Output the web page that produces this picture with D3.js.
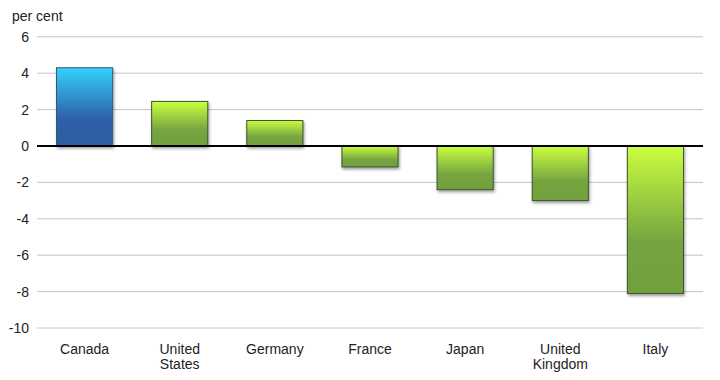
<!DOCTYPE html>
<html>
<head>
<meta charset="utf-8">
<script src="https://cdn.jsdelivr.net/npm/d3@7"></script>
<style>
  body { margin: 0; background: #fff; }
  text { font-family: "Liberation Sans", Helvetica, Arial, sans-serif; }
</style>
</head>
<body>
<div class="canvas"></div>
<script>
// data
const countries = ['Canada', 'United States', 'Germany', 'France', 'Japan', 'United Kingdom', 'Italy'];
const values = [4.3, 2.45, 1.4, -1.15, -2.4, -3.0, -8.1];
const yTicks = [6, 4, 2, 0, -2, -4, -6, -8, -10];

const width = 720, height = 380;
const svg = d3.select('.canvas')
    .append('svg')
    .attr('width', width)
    .attr('height', height);

const data = countries.map((c, i) => ({ name: c, value: values[i] }));

const x = d3.scaleBand()
    .domain(countries)
    .range([37, 703])
    .paddingInner(0.41)
    .paddingOuter(0.205);

const y = d3.scaleLinear()
    .domain([-10, 6])
    .range([328, 36.8]);

// gradients + shadow
const defs = svg.append('defs');
const blue = defs.append('linearGradient')
    .attr('id', 'gBlue').attr('x1', 0).attr('y1', 0).attr('x2', 0).attr('y2', 1);
blue.append('stop').attr('offset', '0%').attr('stop-color', '#33d2ff');
blue.append('stop').attr('offset', '65%').attr('stop-color', '#2e60a7');
blue.append('stop').attr('offset', '100%').attr('stop-color', '#2d5da3');

const green = defs.append('linearGradient')
    .attr('id', 'gGreen').attr('x1', 0).attr('y1', 0).attr('x2', 0).attr('y2', 1);
green.append('stop').attr('offset', '0%').attr('stop-color', '#cbff40');
green.append('stop').attr('offset', '65%').attr('stop-color', '#75a43f');
green.append('stop').attr('offset', '100%').attr('stop-color', '#71a03e');

const shadow = defs.append('filter').attr('id', 'shadow')
    .attr('x', '-20%').attr('y', '-20%').attr('width', '140%').attr('height', '140%');
shadow.append('feDropShadow')
    .attr('dx', 1).attr('dy', 2).attr('stdDeviation', 1.5)
    .attr('flood-color', '#000').attr('flood-opacity', 0.4);

// gridlines
svg.append('g')
    .selectAll('line')
    .data(yTicks.filter(d => d !== 0))
    .enter().append('line')
    .attr('x1', 37).attr('x2', 703)
    .attr('y1', d => y(d)).attr('y2', d => y(d))
    .attr('stroke', '#c4c4c4')
    .attr('stroke-width', 1);

// y axis labels (plain hyphen, like the original)
const yAxis = d3.axisLeft(y)
    .tickValues(yTicks)
    .tickFormat(d => String(d))
    .tickSize(0)
    .tickPadding(0);
const yAxisGroup = svg.append('g')
    .attr('transform', 'translate(29, 0)')
    .call(yAxis);
yAxisGroup.select('.domain').remove();
yAxisGroup.selectAll('text')
    .attr('font-size', 14)
    .attr('fill', '#222')
    .style('font-family', '"Liberation Sans", Helvetica, Arial, sans-serif');

svg.append('text')
    .attr('x', 12).attr('y', 21)
    .attr('font-size', 14)
    .attr('fill', '#222')
    .text('per cent');

// bars
svg.append('g')
    .selectAll('rect')
    .data(data)
    .enter().append('rect')
    .attr('x', d => x(d.name))
    .attr('width', x.bandwidth())
    .attr('y', d => y(Math.max(0, d.value)))
    .attr('height', d => Math.abs(y(d.value) - y(0)))
    .attr('fill', (d, i) => i === 0 ? 'url(#gBlue)' : 'url(#gGreen)')
    .attr('stroke', (d, i) => i === 0 ? '#3e5670' : '#3f5230')
    .attr('stroke-width', 1)
    .attr('filter', 'url(#shadow)');

// zero line
svg.append('line')
    .attr('x1', 37).attr('x2', 703)
    .attr('y1', y(0)).attr('y2', y(0))
    .attr('stroke', '#000')
    .attr('stroke-width', 2);

// x axis labels
const xAxis = d3.axisBottom(x).tickSize(0).tickPadding(0);
const xAxisGroup = svg.append('g')
    .attr('transform', 'translate(0, 344)')
    .call(xAxis);
xAxisGroup.select('.domain').remove();
xAxisGroup.selectAll('text')
    .attr('font-size', 14)
    .attr('fill', '#222')
    .style('font-family', '"Liberation Sans", Helvetica, Arial, sans-serif')
    .each(function(d) {
        const t = d3.select(this);
        const words = d.split(' ');
        t.text(null);
        words.forEach((w, i) => {
            t.append('tspan')
                .attr('x', 0)
                .attr('dy', i === 0 ? '0.71em' : '1.1em')
                .text(w);
        });
    })
    .attr('dy', null);
</script>
</body>
</html>
